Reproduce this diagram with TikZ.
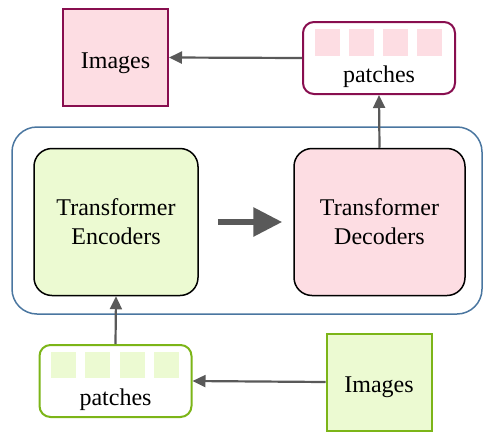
\documentclass[tikz,border=0pt]{standalone}
\usepackage{fontspec}
\setmainfont{Liberation Serif}
\usetikzlibrary{arrows.meta}
\definecolor{pinkfill}{HTML}{FDDDE3}
\definecolor{pinkline}{HTML}{880E4F}
\definecolor{greenfill}{HTML}{ECFAD2}
\definecolor{greenline}{HTML}{7CB518}
\definecolor{blueline}{HTML}{4A76A0}
\definecolor{arrowgray}{HTML}{595959}
\tikzset{
  txt/.style={font=\fontsize{24}{29}\selectfont, inner sep=0pt},
  imgbox/.style={draw, line width=2pt, inner sep=0pt, minimum width=105pt, minimum height=97pt, txt, text height=26pt, text depth=5pt},
  patchbox/.style={draw, line width=2pt, rounded corners=11pt, fill=white, minimum width=152pt, minimum height=72pt, inner sep=0pt},
  tfbox/.style={draw=black, line width=1.5pt, rounded corners=18pt, minimum width=164pt, minimum height=147pt, align=center, txt},
  flow/.style={draw=arrowgray, line width=2.2pt, -{Triangle[length=13pt,width=12pt]}},
}
\begin{document}
\begin{tikzpicture}[x=1pt,y=-1pt]
  \useasboundingbox (0,0) rectangle (489,447);
  % outer frame
  \draw[blueline, line width=1.5pt, rounded corners=25pt] (12,127) rectangle (482,314);
  % model
  \node[tfbox, fill=greenfill] (enc) at (116,222) {Transformer\\Encoders};
  \node[tfbox, fill=pinkfill, minimum width=171pt] (dec) at (379.5,222) {Transformer\\Decoders};
  \draw[draw=arrowgray, line width=6pt, -{Triangle[length=29pt,width=28pt]}, shorten <=19pt, shorten >=11pt] (enc) -- (dec);
  % output side
  \node[imgbox, draw=pinkline, fill=pinkfill] (outimg) at (115.5,57.5) {Images};
  \node[patchbox, draw=pinkline] (outpatch) at (379,58) {};
  \node[txt] (outtxt) at (379,76.5) {patches};
  \foreach \i in {0,...,3}
    \fill[pinkfill] (315+34*\i,29) rectangle ++(25,27);
  % input side
  \node[imgbox, draw=greenline, fill=greenfill] (inimg) at (379,382) {Images};
  \node[patchbox, draw=greenline] (inpatch) at (115.5,381) {};
  \node[txt] (intxt) at (115.5,399.5) {patches};
  \foreach \i in {0,...,3}
    \fill[greenfill] (51+34.3*\i,352) rectangle ++(25,26);
  % connections
  \draw[flow] (inimg.west) -- (inpatch.east);
  \draw[flow] (inpatch.north) -- (enc.south);
  \draw[flow] (dec.north) -- (outpatch.south);
  \draw[flow] (outpatch.west) -- (outimg.east);
\end{tikzpicture}
\end{document}
